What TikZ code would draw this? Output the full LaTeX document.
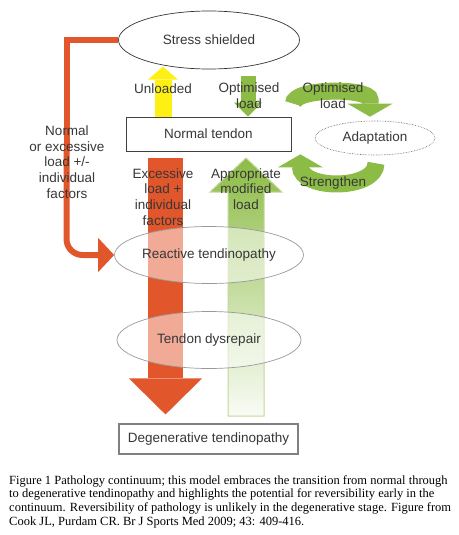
\documentclass[tikz,border=0pt]{standalone}
\usepackage{fontspec}
\setmainfont{Liberation Serif}
\setsansfont{Liberation Sans}
\usetikzlibrary{arrows.meta}
\usetikzlibrary{shapes.geometric}

\definecolor{redload}{RGB}{226,86,44}
\definecolor{unloadyellow}{RGB}{255,240,20}
\definecolor{loadgreen}{RGB}{141,188,70}
\definecolor{paleedge}{RGB}{194,216,154}
\definecolor{labelgray}{RGB}{55,55,55}

\tikzset{
	lbl/.style={font=\sffamily\fontsize{13.5}{15.7}\selectfont, text=labelgray, align=center, inner sep=0pt},
	stressnode/.style={ellipse, draw=black!80, line width=0.7pt, fill=white, minimum width=181pt, minimum height=58pt, inner sep=0pt, lbl},
	stagenode/.style={ellipse, draw=black!40, line width=0.7pt, fill=white, fill opacity=0.5, text opacity=1, minimum width=184pt, minimum height=57pt, inner sep=0pt, lbl},
	adaptnode/.style={ellipse, draw=black!65, densely dotted, line width=0.6pt, minimum width=120pt, minimum height=34pt, inner sep=0pt, lbl},
	tendonbox/.style={draw=black!75, line width=0.7pt, fill=white, minimum width=165pt, minimum height=34pt, inner sep=0pt, lbl},
	degenbox/.style={draw=black!50, line width=1.1pt, fill=white, minimum width=179pt, minimum height=30pt, inner sep=0pt, lbl},
	cyclearrow/.style={draw=loadgreen, line width=17pt, -{Triangle[width=45pt,length=13pt,line width=0pt]}},
}

\begin{document}
\begin{tikzpicture}[x=1pt,y=-1pt]
		\useasboundingbox (0,0) rectangle (458,535);
		
		% draw the boxes and the upper ellipses
		\node[stressnode] (stress) at (209,40) {Stress shielded};
		\node[tendonbox] (normal) at (208.5,134) {Normal tendon};
		\node[adaptnode] (adapt) at (375,138) {Adaptation};
		\node[degenbox] (degen) at (208.5,439) {Degenerative tendinopathy};
		
		% draw the two long arrows
		\draw[redload, line width=35pt, -{Triangle[width=73pt,length=36pt,line width=0pt]}] ([xshift=-43pt,yshift=-7pt]normal.south) -- ([xshift=-43pt,yshift=9pt]degen.north);
		\draw[draw=paleedge, line width=1pt, top color=loadgreen, bottom color=loadgreen!5!white] (228,416) -- (228,192) -- (210,192) -- (246,158) -- (282,192) -- (264,192) -- (264,416) -- cycle;
		
		% draw the stage ellipses
		\node[stagenode] (reactive) at (209,255) {Reactive tendinopathy};
		\node[stagenode] (dysrepair) at (209,340) {Tendon dysrepair};
		
		% draw the short arrows
		\draw[unloadyellow, line width=17pt, -{Triangle[width=30pt,length=13pt,line width=0pt]}] ([xshift=-45.5pt]normal.north) -- +(0,-50);
		\draw[loadgreen, line width=15pt, -{Triangle[width=28pt,length=14pt,line width=0pt]}] ([xshift=39.5pt,yshift=41pt]normal.north) -- ([xshift=39.5pt]normal.north);
		
		% draw the adaptation cycle
		\draw[cyclearrow] ([shift={(2pt,13pt)}]normal.north east) .. controls +(0,-16) and +(0,-12) .. ([shift={(-5pt,21pt)}]adapt.north) -- ([shift={(-5pt,4pt)}]adapt.north);
		\draw[cyclearrow] ([shift={(1pt,-8pt)}]adapt.south) .. controls +(0,27) and +(0,24) .. ([shift={(9pt,-15pt)}]normal.south east) -- ([shift={(9pt,-3pt)}]normal.south east);
		
		% draw the side path
		\draw[redload, line width=6pt] (stress.west) -| (66.5,150);
		\draw[redload, line width=6pt, rounded corners=16pt, -{Triangle[width=34pt,length=16pt,line width=0pt]}] (66.5,150) |- (reactive.west);
		
		% draw the arrow labels
		\node[lbl] (unloaded) at (163,89) {Unloaded};
		\node[lbl] (optload) at (249,96) {Optimised\\load};
		\node[lbl] (cycload) at (333,96) {Optimised\\load};
		\node[lbl] (strengthen) at (333,183) {Strengthen};
		\node[lbl] (sideload) at (67,162) {Normal\\or excessive\\load +/-\\individual\\factors};
		\node[lbl] (excessive) at (163,197) {Excessive\\load +\\individual\\factors};
		\node[lbl] (appropriate) at (246,189) {Appropriate\\modified\\load};
		
		% draw the caption
		\node[anchor=north west, align=left, inner sep=0pt, font=\fontsize{12.5}{13.8}\selectfont] (caption) at (9,475) {Figure 1 Pathology continuum; this model embraces the transition from normal through\\to degenerative tendinopathy and highlights the potential for reversibility early in the\\continuum. Reversibility of pathology is unlikely in the degenerative stage. Figure from\\Cook JL, Purdam CR. Br J Sports Med 2009; 43: 409-416.};
		
		\end{tikzpicture}
\end{document}
